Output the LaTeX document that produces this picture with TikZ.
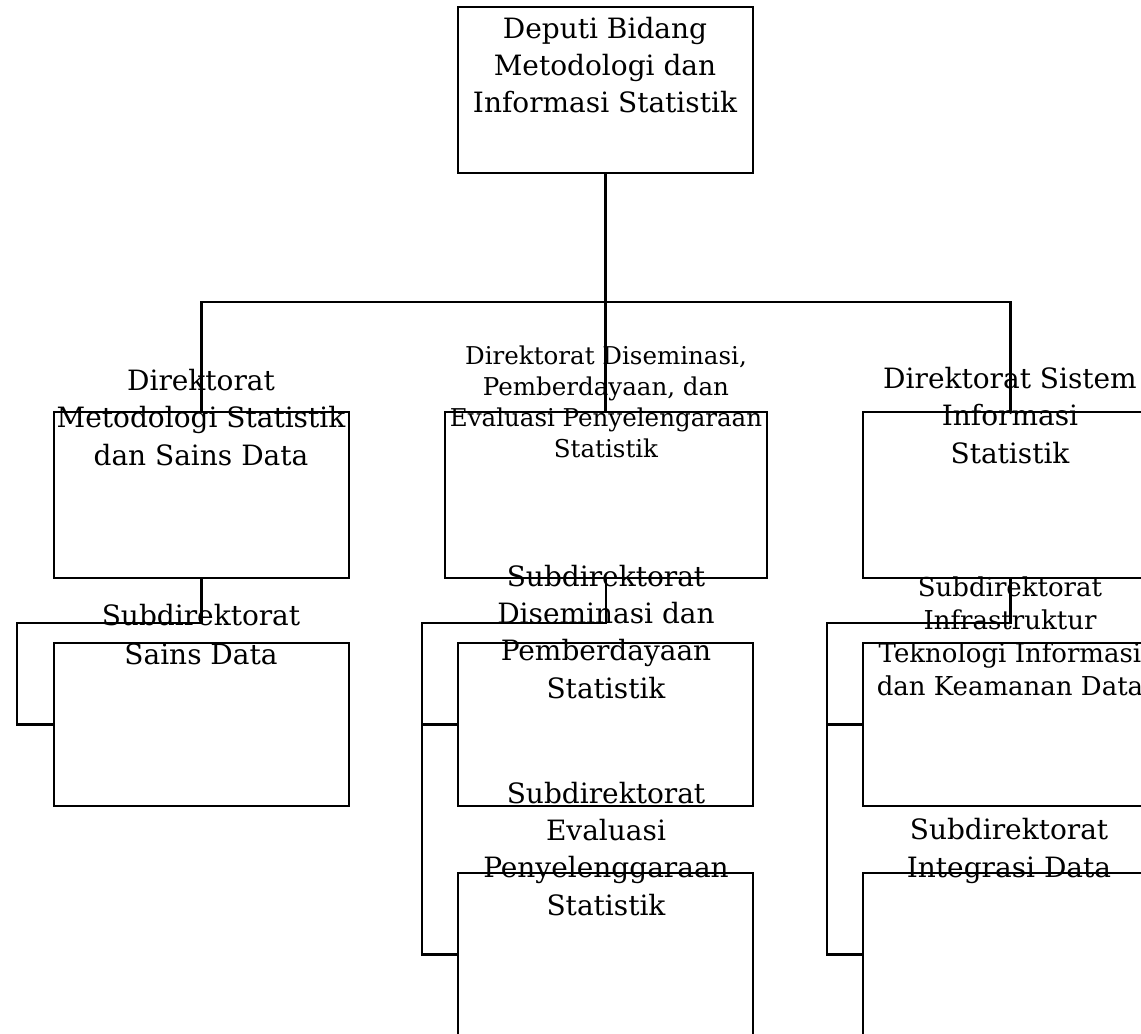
\documentclass[tikz,border=0pt]{standalone}
\usepackage{fontspec}
\setmainfont{DejaVu Serif}
\begin{document}
\begin{tikzpicture}[x=0.75pt,y=-0.75pt,
  box/.style={draw=black,line width=1.7pt,inner sep=0pt,minimum width=221.25pt,minimum height=124.5pt},
  wbox/.style={box,minimum width=241.5pt},
  sbox/.style={box,minimum height=122.25pt},
  conn/.style={draw=black,line width=1.7pt},
  lbl/.style={align=center,inner sep=0pt,anchor=base,font=\fontsize{21}{28}\selectfont},
  lblsmall/.style={lbl,font=\fontsize{18.4}{23.25}\selectfont},
  lblmid/.style={lbl,font=\fontsize{19.5}{24.75}\selectfont}]
\clip (0,0) rectangle (1141,1034);
\useasboundingbox (0,0) rectangle (1141,1034);
% boxes
\node[box] (top) at (605.5,90) {};
\node[box] (L1) at (201.5,495) {};
\node[wbox] (M1) at (606,495) {};
\node[box] (R1) at (1010.5,495) {};
\node[sbox] (L2) at (201.5,724.5) {};
\node[sbox] (M2) at (605.5,724.5) {};
\node[sbox] (M3) at (605.5,954.5) {};
\node[sbox] (R2) at (1010.5,724.5) {};
\node[sbox] (R3) at (1010.5,954.5) {};
% junction points
\coordinate (bar) at (606,302);
\coordinate (lj) at (17,623);
\coordinate (mj) at (422,623);
\coordinate (rj) at (827,623);
% connectors
\draw[conn] (top.south) -- (top.south |- M1.north);
\draw[conn] (L1.north) |- (bar) -| (R1.north);
\draw[conn] (L1.south) |- (lj) |- (L2.west);
\draw[conn] (M1.south) |- (mj) |- (M2.west);
\draw[conn] (mj) |- (M3.west);
\draw[conn] (R1.south) |- (rj) |- (R2.west);
\draw[conn] (rj) |- (R3.west);
% texts (anchored at the baseline of the last line)
\node[lbl] (ttop) at (605,113) {Deputi Bidang\\Metodologi dan\\Informasi Statistik};
\node[lbl] (tL1) at (201,465) {Direktorat\\Metodologi Statistik\\dan Sains Data};
\node[lblsmall] (tM1) at (606,457) {Direktorat Diseminasi,\\Pemberdayaan, dan\\Evaluasi Penyelengaraan\\Statistik};
\node[lbl] (tR1) at (1010,463) {Direktorat Sistem\\Informasi\\Statistik};
\node[lbl,font=\fontsize{21}{29}\selectfont] (tL2) at (201,664) {Subdirektorat\\Sains Data};
\node[lbl] (tM2) at (606,698) {Subdirektorat\\Diseminasi dan\\Pemberdayaan\\Statistik};
\node[lbl] (tM3) at (606,915) {Subdirektorat\\Evaluasi\\Penyelenggaraan\\Statistik};
\node[lblmid] (tR2) at (1010,695) {Subdirektorat\\Infrastruktur\\Teknologi Informasi\\dan Keamanan Data};
\node[lbl] (tR3) at (1009,877) {Subdirektorat\\Integrasi Data};
\end{tikzpicture}
\end{document}
